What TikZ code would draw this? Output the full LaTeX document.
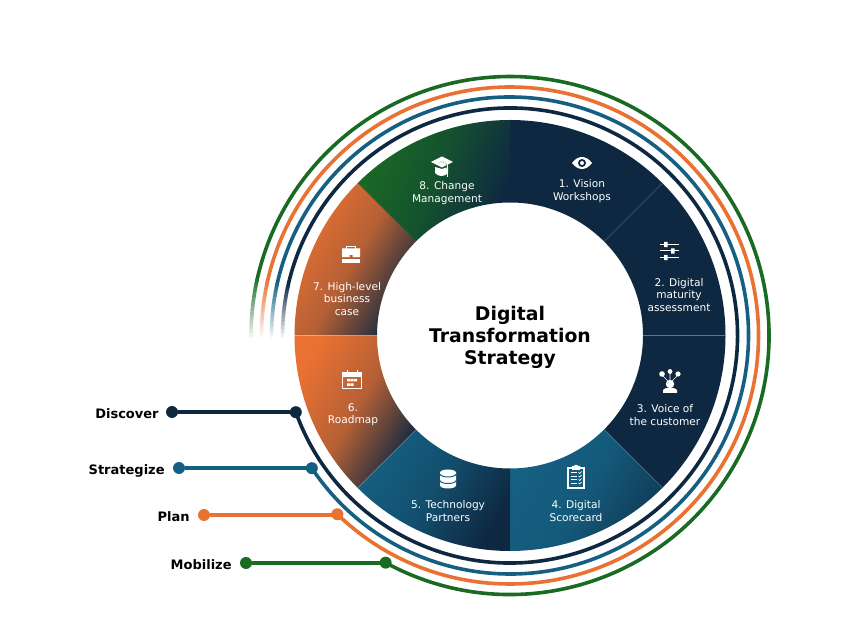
\documentclass[tikz,border=0pt]{standalone}
\usepackage{fontspec}
\setmainfont{DejaVu Sans}
\usepackage{tikz}
\usetikzlibrary{positioning}
\usetikzlibrary{calc}

\definecolor{NavyCol}{HTML}{0E2841}
\definecolor{BlueCol}{HTML}{156082}
\definecolor{OrangeCol}{HTML}{E97132}
\definecolor{GreenCol}{HTML}{196B24}

\tikzset{
	sectorLabel/.style={text=white, align=center, font=\fontsize{10.6}{12.3}\selectfont, inner sep=0pt},
	phaseLabel/.style={text=black, inner sep=2pt, yshift=-3.2pt, text height=10pt, text depth=3pt, font=\fontsize{13}{14}\selectfont\bfseries},
	ringLine/.style={line width=3.6pt},
	leadLine/.style={line width=3.8pt},
	leadDot/.style={circle, minimum size=12pt, inner sep=0pt},
	iconFill/.style={fill=white, draw=none},
	iconLine/.style={draw=white, line width=1pt}
}

\begin{document}
\begin{tikzpicture}[x=1pt, y=1pt]
	\useasboundingbox (0,0) rectangle (858,642);
	\coordinate (Center) at (510,306.5);
	
	% --- sectors
	
	\begin{scope}[shift={(Center)}]
		\fill[NavyCol] (90:133) arc[start angle=90, end angle=-45, radius=133pt] -- (-45:215.5)
		arc[start angle=-45, end angle=90, radius=215.5pt] -- cycle;
		
		\shade[left color=BlueCol, right color=NavyCol!65!BlueCol, middle color=BlueCol!88!NavyCol, shading angle=60] (-45:133) arc[start angle=-45, end angle=-90, radius=133pt] -- (-90:215.5)
		arc[start angle=-90, end angle=-45, radius=215.5pt] -- cycle;
		
		\shade[left color=BlueCol, right color=NavyCol, middle color=BlueCol!68!NavyCol, shading angle=60] (-90:133) arc[start angle=-90, end angle=-135, radius=133pt] -- (-135:215.5)
		arc[start angle=-135, end angle=-90, radius=215.5pt] -- cycle;
		
		\shade[left color=OrangeCol, right color=NavyCol, middle color=OrangeCol!76!NavyCol, shading angle=60] (-135:133) arc[start angle=-135, end angle=-180, radius=133pt] -- (180:215.5)
		arc[start angle=-180, end angle=-135, radius=215.5pt] -- cycle;
		
		\shade[left color=OrangeCol, right color=NavyCol, middle color=OrangeCol!76!NavyCol, shading angle=60] (180:133) arc[start angle=180, end angle=135, radius=133pt] -- (135:215.5)
		arc[start angle=135, end angle=180, radius=215.5pt] -- cycle;
		
		\shade[left color=GreenCol, right color=NavyCol, middle color=GreenCol!62!NavyCol, shading angle=70] (135:133) arc[start angle=135, end angle=90, radius=133pt] -- (90:215.5)
		arc[start angle=90, end angle=135, radius=215.5pt] -- cycle;
		
		\draw[white, opacity=.2, line width=.7pt] (45:133) -- (45:215.5);
		\draw[white, opacity=.35, line width=.7pt] (0:133) -- (0:215.5);
		\draw[white, opacity=.2, line width=.7pt] (-45:133) -- (-45:215.5);
		\draw[white, opacity=.25, line width=.7pt] (-135:133) -- (-135:215.5);
		\draw[white, opacity=.25, line width=.7pt] (180:133) -- (180:215.5);
	\end{scope}
	
	% --- phase end points and names
	
	\node[leadDot, fill=NavyCol, at={($(Center)+(199.7:227.5)$)}] (DiscoverEnd) {};
	\node[leadDot, fill=BlueCol, at={($(Center)+(213.8:238.5)$)}] (StrategizeEnd) {};
	\node[leadDot, fill=OrangeCol, at={($(Center)+(226:248.5)$)}] (PlanEnd) {};
	\node[leadDot, fill=GreenCol, at={($(Center)+(241.3:259)$)}] (MobilizeEnd) {};
	
	\node[leadDot, fill=NavyCol] (DiscoverDot) at (172,230) {};
	\node[leadDot, fill=BlueCol] (StrategizeDot) at (179,174) {};
	\node[leadDot, fill=OrangeCol] (PlanDot) at (204,127) {};
	\node[leadDot, fill=GreenCol] (MobilizeDot) at (246,79) {};
	
	\node[phaseLabel, left=5pt of DiscoverDot] (Discover) {Discover};
	\node[phaseLabel, left=6pt of StrategizeDot] (Strategize) {Strategize};
	\node[phaseLabel, left=6pt of PlanDot] (Plan) {Plan};
	\node[phaseLabel, left=6pt of MobilizeDot] (Mobilize) {Mobilize};
	
	\draw[leadLine, NavyCol] (DiscoverDot) -- (DiscoverDot -| DiscoverEnd);
	\draw[leadLine, BlueCol] (StrategizeDot) -- (StrategizeDot -| StrategizeEnd);
	\draw[leadLine, OrangeCol] (PlanDot) -- (PlanDot -| PlanEnd);
	\draw[leadLine, GreenCol] (MobilizeDot) -- (MobilizeDot -| MobilizeEnd);
	
	% --- rings, each one fades out at its free end
	
	\begin{scope}[shift={(Center)}]
		\draw[ringLine, NavyCol] (199.7:227.5) arc[start angle=199.7, end angle=528, radius=227.5pt];
		\draw[ringLine, BlueCol] (213.8:238.5) arc[start angle=213.8, end angle=528, radius=238.5pt];
		\draw[ringLine, OrangeCol] (226:248.5) arc[start angle=226, end angle=528, radius=248.5pt];
		\draw[ringLine, GreenCol] (241.3:259) arc[start angle=241.3, end angle=528, radius=259pt];
		
		\foreach \ringCol/\ringRad in {NavyCol/227.5, BlueCol/238.5, OrangeCol/248.5, GreenCol/259}{
			\foreach \ang in {168,...,181}{
				\pgfmathsetmacro{\fadePct}{100-(\ang-167)*7.1}
				\draw[ringLine, \ringCol!\fadePct!white] (\ang-.6:\ringRad) arc[start angle=\ang-.6, end angle=\ang+.6, radius=\ringRad pt];
			}
		}
	\end{scope}
	
	% --- sector texts
	
	\node[sectorLabel] (Vision) at (582,451) {1. Vision\\Workshops};
	\node[sectorLabel] (Maturity) at (679,347) {2. Digital\\maturity\\assessment};
	\node[sectorLabel] (Voice) at (665,227) {3. Voice of\\the customer};
	\node[sectorLabel] (Scorecard) at (576,131) {4. Digital\\Scorecard};
	\node[sectorLabel] (Partners) at (448,131) {5. Technology\\Partners};
	\node[sectorLabel] (Roadmap) at (353,227) {6.\\Roadmap};
	\node[sectorLabel] (BusinessCase) at (347,343) {7. High-level\\business\\case};
	\node[sectorLabel] (Change) at (447,449) {8. Change\\Management};
	
	\node[
	align=center,
	font=\fontsize{18.8}{22}\selectfont\bfseries
	] (Title) at (510,304.5) {Digital\\Transformation\\Strategy};
	
	% --- icons
	
	% eye
	\begin{scope}[shift={(582,479)}]
		\fill[white] (-10,0) .. controls (-4,8) and (4,8) .. (10,0) .. controls (4,-8) and (-4,-8) .. (-10,0) -- cycle;
		\fill[NavyCol] (0,0) circle[radius=4];
		\fill[white] (0,0) circle[radius=2];
	\end{scope}
	
	% sliders
	\begin{scope}[shift={(669,391)}]
		\draw[iconLine] (-9.5,6.5) -- (9.5,6.5) (-9.5,0) -- (9.5,0) (-9.5,-6.5) -- (9.5,-6.5);
		\fill[white] (-5,3.8) rectangle (-1.5,9.2) (2,-2.7) rectangle (5.5,2.7) (-5,-9.2) rectangle (-1.5,-3.8);
	\end{scope}
	
	% voice of the customer
	\begin{scope}[shift={(670,260)}]
		\draw[white, line width=.6pt] (-8,7) -- (-2,1) (0,10) -- (0,2) (8,7) -- (2,1);
		\fill[white] (-8,8) circle[radius=2.8] (0,10.5) circle[radius=2.4] (8,8) circle[radius=2.6];
		\fill[white] (0,-2) circle[radius=4.2];
		\fill[white] (-7,-11) -- (-7,-8) .. controls (-6,-5) and (6,-5) .. (7,-8) -- (7,-11) -- cycle;
	\end{scope}
	
	% clipboard
	\begin{scope}[shift={(576,165)}]
		\draw[iconLine, line width=1.2pt] (-8,-11) rectangle (8,9);
		\fill[white] (-4,7) rectangle (4,11) (-1.5,10) rectangle (1.5,12);
		\foreach \yRow in {4.5,1,-2.5,-6}{
			\draw[white, line width=.7pt] (-5.5,\yRow) -- (1,\yRow);
			\draw[white, line width=.7pt] (2.5,\yRow) -- (3.7,\yRow-1) -- (5.7,\yRow+1);
		}
	\end{scope}
	
	% database
	\begin{scope}[shift={(448,163)}]
		\fill[white] (-8,6.5) arc[start angle=180, end angle=0, x radius=8, y radius=3] -- (8,-6.5)
		arc[start angle=0, end angle=-180, x radius=8, y radius=3] -- cycle;
		\draw[BlueCol, line width=1pt] (-8,5) arc[start angle=180, end angle=360, x radius=8, y radius=3];
		\draw[BlueCol, line width=1pt] (-8,-1.5) arc[start angle=180, end angle=360, x radius=8, y radius=3];
	\end{scope}
	
	% calendar
	\begin{scope}[shift={(352,262)}]
		\draw[iconLine] (-9.5,-9) rectangle (9.5,7);
		\fill[white] (-9.5,3) rectangle (9.5,7);
		\draw[white, line width=1pt] (-5,5) -- (-5,10) (5,5) -- (5,10);
		\fill[white] (-5,-1.5) rectangle (-2,1) (-1.5,-1.5) rectangle (1.5,1) (2,-1.5) rectangle (5,1);
		\fill[white] (-5,-6) rectangle (-2,-3.3) (-1.5,-6) rectangle (1.5,-3.3);
	\end{scope}
	
	% briefcase
	\begin{scope}[shift={(351,387)}]
		\draw[iconLine] (-4.5,6) -- (-4.5,8.5) -- (4.5,8.5) -- (4.5,6);
		\fill[white] (-9,-2.2) rectangle (-1.5,6.5) (1.5,-2.2) rectangle (9,6.5) (-1.5,0) rectangle (1.5,6.5);
		\fill[white] (-9,-8) rectangle (9,-3.6);
	\end{scope}
	
	% graduation cap
	\begin{scope}[shift={(442,476)}]
		\fill[white] (-7,-1) -- (-7,-7) .. controls (-4,-11) and (3,-11) .. (6,-7) -- (6,-1) -- (0,-3) -- cycle;
		\fill[white] (-11,4) -- (0,9.5) -- (11,4) -- (0,-1.5) -- cycle;
		\draw[GreenCol, line width=.7pt] (-3,3) .. controls (0,5.5) and (4,4) .. (5,1) -- (5,-3);
		\draw[white, line width=.8pt] (-3,3) .. controls (0,5.5) and (4,4) .. (5.5,1) -- (5.5,-11);
	\end{scope}
\end{tikzpicture}
\end{document}
